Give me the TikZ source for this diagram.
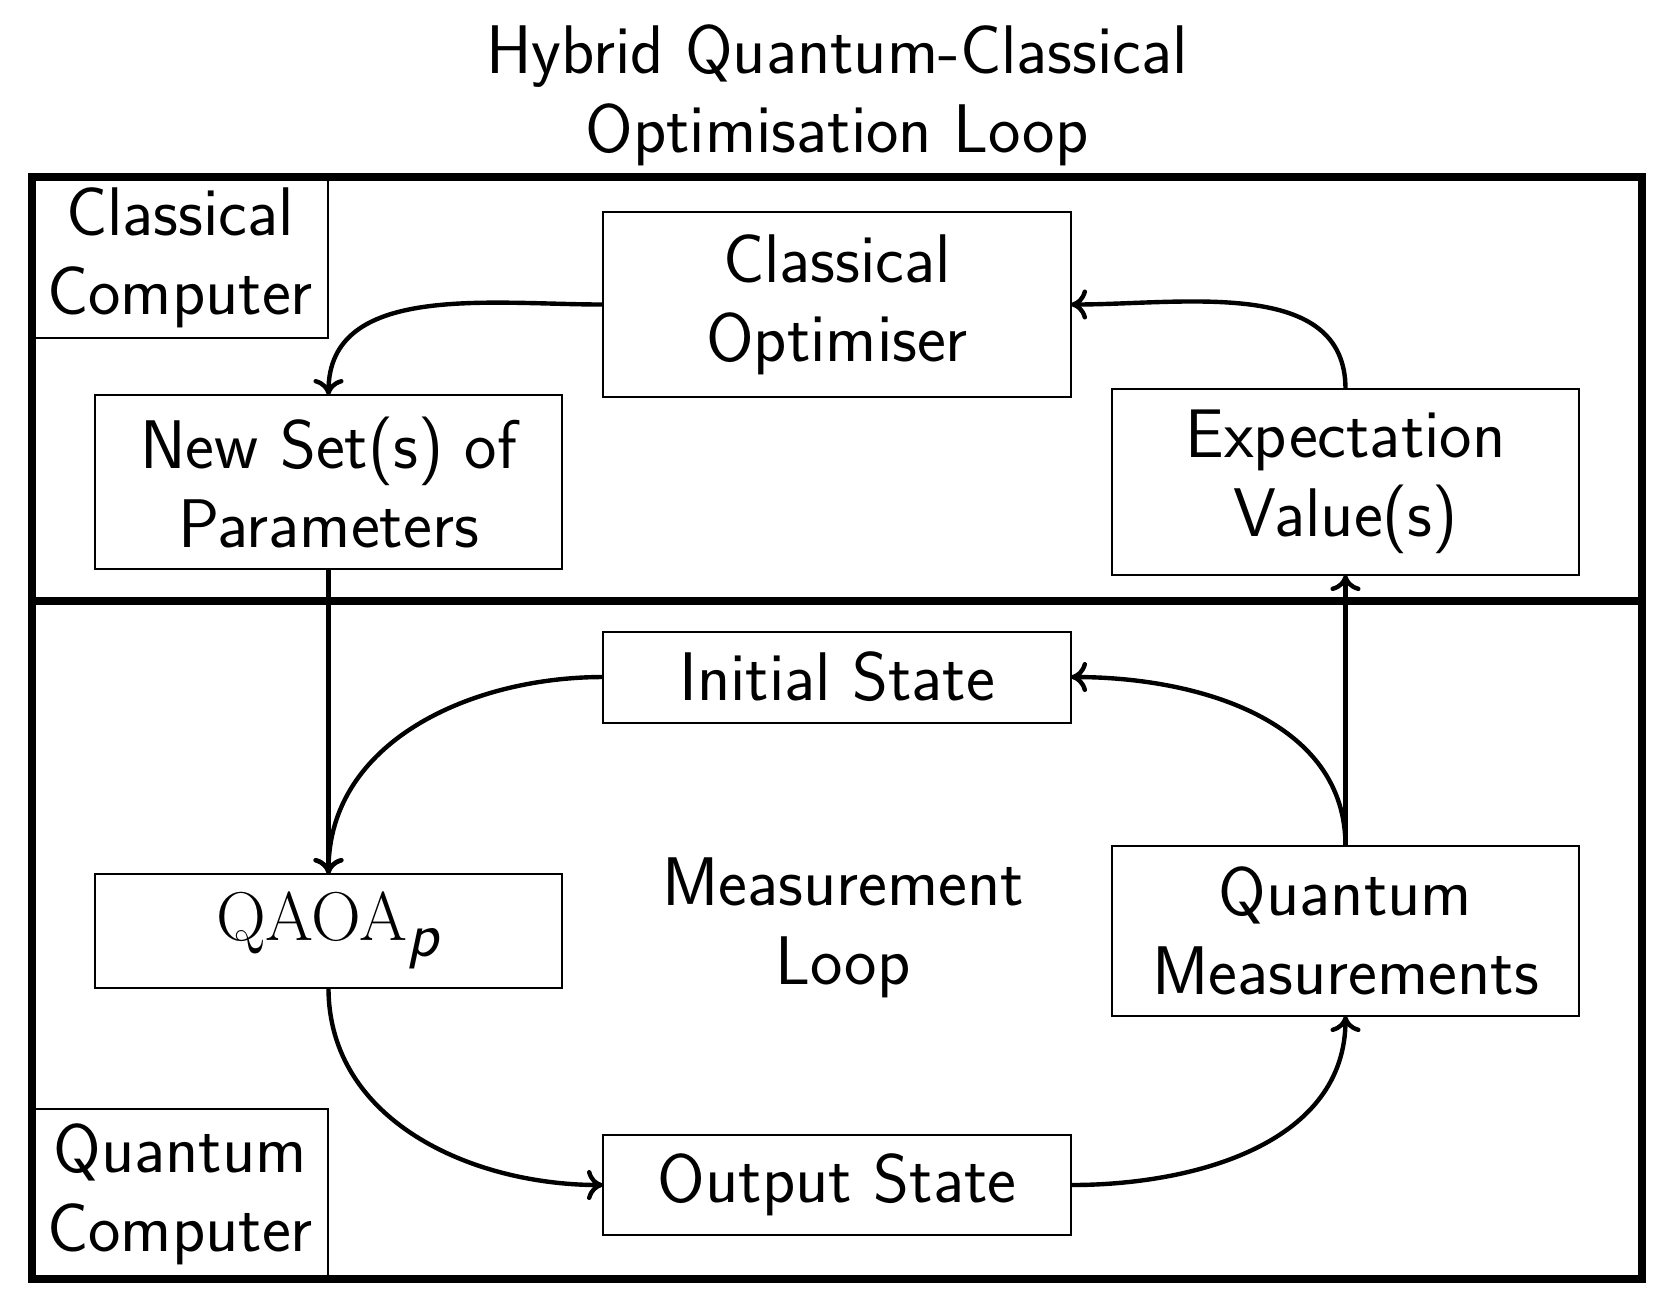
\documentclass[tikz,border=0pt]{standalone}
\usetikzlibrary{arrows.meta}
\begin{document}
\begin{tikzpicture}[x=0.25pt,y=-0.25pt,
  font=\sffamily\fontsize{17.2}{19.75}\selectfont,
  box/.style={draw, line width=0.5pt, align=center, inner sep=0pt, outer sep=0pt},
  conn/.style={-{Computer Modern Rightarrow[length=4pt,width=7.5pt]}, line width=1.1pt},
  frameline/.style={line width=2.1pt}]
\useasboundingbox (0,0) rectangle (1668,1310);
% title
\node[align=center, inner sep=0pt] (title) at (837,95) {Hybrid Quantum-Classical\\Optimisation Loop};
% frame
\draw[frameline] (32,177) rectangle (1642,1279);
\coordinate (sepL) at (32,601);
\coordinate (sepR) at (1642,601);
\draw[frameline] (sepL) -- (sepR);
% label boxes
\node[box, minimum width=74pt, minimum height=40.25pt] (cc) at (180,257.5) {Classical\\Computer};
\node[box, minimum width=74pt, minimum height=42.5pt] (qc) at (180,1194) {Quantum\\Computer};
% classical part
\node[box, minimum width=117pt, minimum height=46.25pt] (opt) at (837,304.5) {Classical\\Optimiser};
\node[box, minimum width=116.75pt, minimum height=43.5pt] (par) at (328.5,482) {New Set(s) of\\Parameters};
\node[box, minimum width=116.75pt, minimum height=46.5pt] (exp) at (1345.5,482) {Expectation\\Value(s)};
% quantum part
\node[box, minimum width=117pt, minimum height=22.75pt] (init) at (837,677) {Initial State};
\node[box, minimum width=116.75pt, minimum height=28.5pt, font=\fontsize{16}{19.75}\selectfont] (qaoa) at (328.5,931) {$\mathrm{QAOA}_{\textsf{\itshape p}}$};
\node[box, minimum width=116.75pt, minimum height=42.5pt] (qm) at (1345.5,931) {Quantum\\Measurements};
\node[box, minimum width=117pt, minimum height=25pt] (out) at (837,1185) {Output State};
\node[align=center, inner sep=0pt] (ml) at (843,928) {Measurement\\Loop};
% connectors
\draw[conn] (opt.west) to[out=180,in=90] (par.north);
\draw[conn] (exp.north) to[out=90,in=0] (opt.east);
\draw[conn] (par.south) -- (qaoa.north);
\draw[conn] (init.west) to[out=180,in=90] (qaoa.north);
\draw[conn] (qaoa.south) to[out=270,in=180] (out.west);
\draw[conn] (out.east) to[out=0,in=270] (qm.south);
\draw[conn] (qm.north) to[out=90,in=0] (init.east);
\draw[conn] (qm.north) -- (exp.south);
\end{tikzpicture}
\end{document}
